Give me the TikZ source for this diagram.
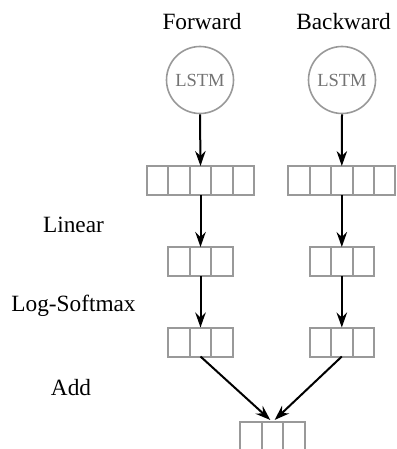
\documentclass[tikz,border=0pt]{standalone}
\usepackage{fontspec}
\setmainfont{Liberation Serif}
\usetikzlibrary{arrows.meta}
\begin{document}
\begin{tikzpicture}[x=1pt,y=-1pt,
  cell/.style={draw=black!40, line width=2pt, minimum width=21.4pt, minimum height=29pt, inner sep=0pt, outer sep=0pt},
  lstm/.style={circle, draw=black!40, line width=1.6pt, minimum size=67pt, inner sep=0pt, text=black!55, font=\fontsize{18.5}{20}\selectfont},
  lbl/.style={font=\fontsize{23.3}{26}\selectfont, inner sep=0pt},
  arr/.style={-{Stealth[length=15pt,width=10.5pt,inset=5pt]}, line width=2pt}]
\useasboundingbox (0,0) rectangle (396,449);
\clip (0,0) rectangle (396,449);
% titles
\node[lbl] (tf) at (202,22) {Forward};
\node[lbl] (tb) at (343.5,22) {Backward};
\node[lbl] (llin) at (73.5,225) {Linear};
\node[lbl] (llog) at (73.5,306) {Log-Softmax};
\node[lbl] (ladd) at (71,388) {Add};
% LSTMs
\node[lstm] (fl) at (200,80) {LSTM};
\node[lstm] (bl) at (342,80) {LSTM};
% 5-cell rows
\foreach \k in {1,...,5} {
  \node[cell] (f5\k) at (200.5+21.4*\k-64.2,180.5) {};
  \node[cell] (b5\k) at (341.8+21.4*\k-64.2,180.5) {};
}
\foreach \k in {1,2,3} {
  \node[cell] (flin\k) at (200.5+21.4*\k-42.8,261.5) {};
  \node[cell] (blin\k) at (341.8+21.4*\k-42.8,261.5) {};
  \node[cell] (flog\k) at (200.5+21.4*\k-42.8,342) {};
  \node[cell] (blog\k) at (341.8+21.4*\k-42.8,342) {};
  \node[cell] (add\k) at (272.5+21.4*\k-42.8,436.5) {};
}
% arrows
\draw[arr] (fl.south) -- (f53.north);
\draw[arr] (bl.south) -- (b53.north);
\draw[arr] (f53.south) -- (flin2.north);
\draw[arr] (b53.south) -- (blin2.north);
\draw[arr] (flin2.south) -- (flog2.north);
\draw[arr] (blin2.south) -- (blog2.north);
\draw[arr, shorten >=3pt] (flog2.south) -- (add2.north);
\draw[arr, shorten >=3pt] (blog2.south) -- (add2.north);
\end{tikzpicture}
\end{document}
